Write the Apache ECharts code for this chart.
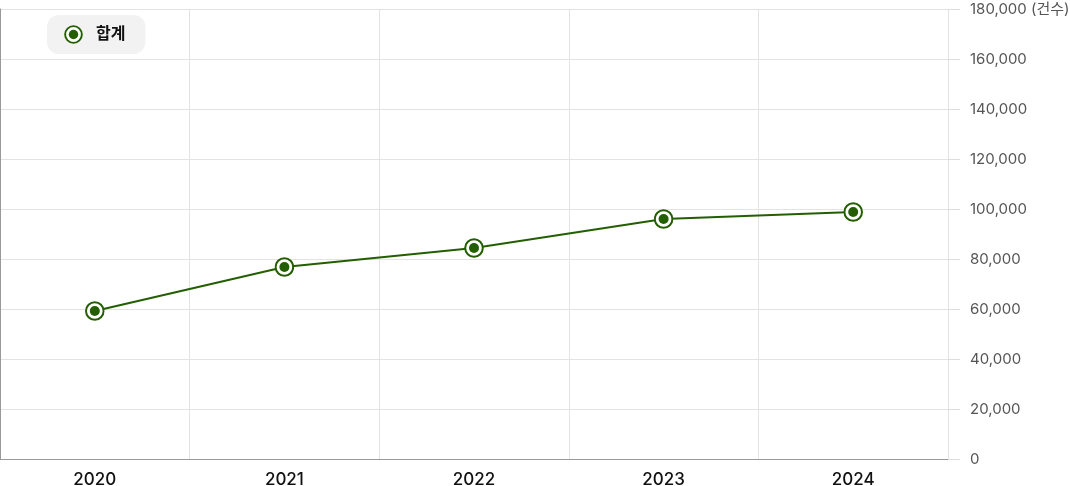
<!DOCTYPE html>
<html><head><meta charset="utf-8">
<script src="https://cdn.jsdelivr.net/npm/echarts@6/dist/echarts.min.js"></script>
<style>html,body{margin:0;padding:0;background:#fff}#c{width:1070px;height:486px}</style>
</head><body><div id="c"></div>
<script>
const categories = ['2020', '2021', '2022', '2023', '2024'];
const totals = [59200, 76800, 84400, 96000, 98800];
const seriesName = '합계';
const unitLabel = '(건수)';

const green = '#235e00';
const markerSvg = "<svg xmlns='http://www.w3.org/2000/svg' width='20' height='20'><circle cx='10' cy='10' r='8.8' fill='white' stroke='" + green + "' stroke-width='2'/><circle cx='10' cy='10' r='5' fill='" + green + "'/></svg>";
const markerIcon = 'image://data:image/svg+xml;charset=utf-8,' + encodeURIComponent(markerSvg);
const font = 'Inter, "Noto Sans CJK KR", sans-serif';

const chart = echarts.init(document.getElementById('c'));
chart.setOption({
  animation: false,
  textStyle: { fontFamily: font },
  grid: { left: 0, right: 122, top: 9, bottom: 27, containLabel: false, outerBoundsMode: 'none' },
  legend: {
    data: [{ name: seriesName, icon: markerIcon }],
    left: 47, top: 15,
    padding: [10, 20, 10, 17],
    backgroundColor: '#f2f2f2',
    borderRadius: 12,
    itemWidth: 19, itemHeight: 19,
    textStyle: { fontSize: 16, fontWeight: 'bold', color: '#111', fontFamily: font, padding: [0, 0, 0, 8] }
  },
  xAxis: {
    type: 'category',
    data: categories,
    boundaryGap: true,
    axisLine: { show: true, lineStyle: { color: '#999', width: 1 } },
    axisTick: { show: false },
    splitLine: { show: true, lineStyle: { color: '#e3e3e3' } },
    axisLabel: { fontSize: 17, fontWeight: 500, color: '#111', margin: 12, fontFamily: font }
  },
  yAxis: [{
    type: 'value',
    position: 'right',
    min: 0, max: 180000, interval: 20000,
    axisLine: { show: true, lineStyle: { color: 'rgba(0,0,0,0)' } },
    axisTick: { show: true, length: 12, lineStyle: { color: '#dddddd' } },
    splitLine: { show: true, lineStyle: { color: '#e3e3e3' } },
    axisLabel: {
      fontSize: 15, color: '#555', margin: 22, fontFamily: font,
      formatter: function (v) {
        const s = v.toLocaleString('en-US');
        return v === 180000 ? s + ' ' + unitLabel : s;
      }
    }
  }, {
    type: 'value',
    position: 'left',
    min: 0, max: 180000, interval: 20000,
    axisLine: { show: true, lineStyle: { color: '#999' } },
    axisTick: { show: false },
    axisLabel: { show: false },
    splitLine: { show: false }
  }],
  series: [{
    name: seriesName,
    type: 'line',
    data: totals,
    symbol: markerIcon,
    symbolSize: 20,
    lineStyle: { color: green, width: 2 },
    itemStyle: { color: green }
  }]
});
</script></body></html>
